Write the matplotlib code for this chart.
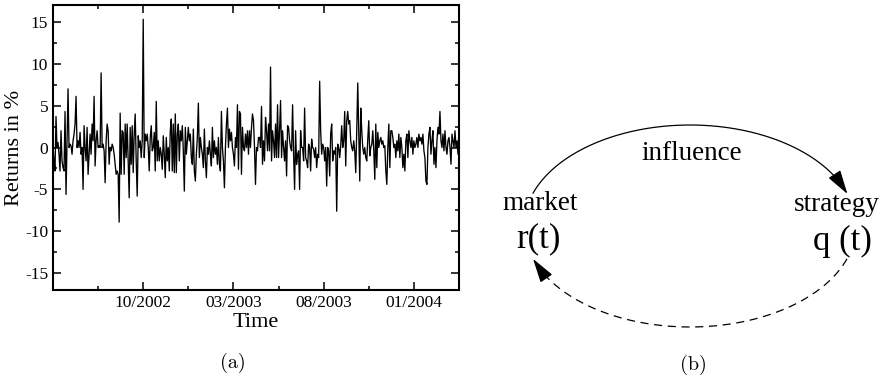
import numpy as np
import matplotlib
matplotlib.use("Agg")
import matplotlib.pyplot as plt
from matplotlib.ticker import MultipleLocator, FixedLocator

# ---------------- data (returns in %) -------------
returns = [
    0, -1.6, -2.8, 3.7, 0, 0.6, -0.8, -2.8, 2.0, -1.6,
    -2.4, -2.8, 4.3, -5.6, 0.8, 7.0, 0, 0.4, 0.2, -0.8,
    0.8, 1.6, 2.8, 6.1, 0, 0.8, 0, 1.8, -0.8, 0,
    -5.0, 2.6, 0, -1.6, 2.4, -3.2, -0.8, 1.6, -0.8, 2.8,
    0.8, 6.1, -2.2, 0.8, 2.0, 0, 0.2, 0, 8.9, 0,
    0.4, -0.4, -4.2, 0.8, 2.8, 2.0, -2.0, 0, -0.4, 0.4,
    0, -0.8, -2.0, -3.2, -2.8, -3.2, -8.9, 4.1, -3.2, 2.0,
    1.8, -3.2, 2.8, -1.2, 2.8, -1.6, -6.0, 2.4, -2.0, 2.6,
    -3.0, 1.6, 4.0, -1.6, -5.8, 1.4, 0, 0.8, -1.2, 0.8,
    15.3, -1.2, 1.6, 0.8, 1.6, 0, -2.8, 1.2, 2.6, -0.4,
    0, 1.8, -2.8, 5.5, -1.6, 0.8, -1.6, 0, -0.8, -2.6,
    1.4, -0.8, -3.6, 1.2, -1.6, 0, -2.8, 2.0, 3.4, -2.8,
    2.8, -3.0, 4.0, -3.0, 1.6, 2.8, -1.6, 2.0, 0.8, 2.6,
    -0.4, -5.2, 2.4, -0.8, 0.8, 2.4, 0.8, 1.6,
    -1.2, -2.0, 2.2, -2.8, -4.0, -0.8, 1.2, 5.3, -1.2, 1.2,
    0, -0.8, -2.4, 2.2, -1.6, -3.6, 0, -0.8, 0.8, -0.8,
    -2.2, 2.4, -1.2, 0.8, -0.8, 0, -2.0, 1.2, -2.0, -2.8,
    4.3, 0, -1.6, -4.8, 0, 2.8, 4.7, 0, 2.2, 0.8,
    1.8, 0, -0.8, -2.2, 1.2, 0, 5.1, -2.6, 4.3, 4.0,
    -3.2, 2.4, 0, -0.4, 1.6, 0, 2.0, -0.8, 2.0, 0,
    2.4, 4.0, 3.2, 0, -4.4, 0, -0.4, 1.2,
    1.2, 0, 4.9, -2.0, 0.8, -1.6, 3.6, 2.0, -0.4, 2.8,
    -0.4, 9.6, -1.6, 2.0, 0.8, -1.2, 2.8, -1.2, 5.1, -1.2,
    2.0, 5.6, -1.2, 2.0, 0, -1.6, 0.8, -3.4, 2.6, 2.4,
    0.8, 0, -0.4, 5.1, -0.8, -5.0, 2.0, -2.0, -0.8, -0.4,
    -5.0, 2.0, 0, 0, -1.6, 4.7, -1.2, -1.6, -2.4, 0.4,
    0, -2.8, 1.0, 0, -0.2, -1.2, 0, -2.4, -0.8, -1.2,
    7.9, 2.0, -0.8, 0.4, 0, -1.6, 0, -4.6,
    0, -0.4, -3.4, 1.6, 2.8, -1.6, -0.4, -0.8, 0, -7.6,
    0.4, 0, -1.2, 0.2, 2.6, 0, 0.8, 4.3, -2.2, 3.2,
    4.3, 2.8, 3.2, 0.8, 0, -0.4, 0.8, -0.4, -3.0, 2.0,
    7.7, 1.6, -4.0, 4.7, 2.0, 0, -0.8, 0, -1.2, -1.6,
    1.0, 3.2, -1.0, 0, 0.4, 2.0, -0.4, -3.8, 2.8, -2.4,
    1.8, 0, 0.8, 1.2, 0.4, 0.8, 0, 0.2, -2.8, -4.4,
    0, 2.8, -2.4, 2.0, 2.0, 1.2, 0, 0.4,
    -1.2, 0.8, -0.4, 1.6, -1.2, 1.2, 0, -2.4, -0.8, -2.8,
    0.8, 1.6, -1.2, 2.0, 0.8, 0, 1.2, -0.8, 0.8, 0,
    0.4, 1.2, 0, 1.6, 0.8, 1.2, 0.4, 1.6, -0.4, -1.2,
    -4.0, -4.4, 0, 1.6, 2.4, -0.8, 0.8, 2.0, -2.0, 0,
    -2.4, 0.8, 2.4, 1.6, 4.3, 0.8, 0, 1.6, -0.4, 2.0,
    0, -0.8, 0.8, 1.2, 0, -2.0, 1.6, 0.8, 0, 2.0,
    0, 0.8, -0.8, 2.4,
]
span_months = 22.5                      # 05/2002 .. mid 03/2004
xtick_months = [5, 10, 15, 20]
xtick_labels = ["10/2002", "03/2003", "08/2003", "01/2004"]
xminor_months = [2.5, 7.5, 12.5, 17.5]
ytick_values = [-15, -10, -5, 0, 5, 10, 15]
ytick_labels = ["-15", "-10", "-5", "0", "5", "10", "15"]

SERIF = ["Liberation Serif", "DejaVu Serif"]
plt.rcParams["font.family"] = SERIF

W, H = 882, 380
fig = plt.figure(figsize=(W / 100, H / 100), dpi=100)

# ---------------- panel (a) ----------------
ax = fig.add_axes([53 / W, 90 / H, 406 / W, 285 / H])
x = np.linspace(0, span_months, len(returns))
ax.plot(x, returns, color="black", lw=0.95)
ax.set_xlim(0, span_months)
ax.set_ylim(-17, 17)
ax.set_xticks(xtick_months)
ax.set_xticklabels(xtick_labels)
ax.xaxis.set_minor_locator(FixedLocator(xminor_months))
ax.set_yticks(ytick_values)
ax.set_yticklabels(ytick_labels)
ax.yaxis.set_minor_locator(MultipleLocator(2.5))
ax.tick_params(which="both", direction="in", top=True, right=True,
               width=1.1, labelsize=12.5)
ax.tick_params(which="major", length=6)
ax.tick_params(which="minor", length=3)
for s in ax.spines.values():
    s.set_linewidth(1.5)
ax.set_xlabel("Time", fontsize=16, labelpad=1.5)
ax.set_ylabel("Returns in %", fontsize=16, labelpad=1)

# ---------------- overlay in pixel coordinates ----------------
ov = fig.add_axes([0, 0, 1, 1])
ov.set_xlim(0, W)
ov.set_ylim(H, 0)
ov.axis("off")
ov.patch.set_visible(False)

ov.text(233, 363, "(a)", fontsize=14.5, family=["cmr10", "DejaVu Serif"],
        ha="center", va="center")
ov.text(693, 365, "(b)", fontsize=14.5, family=["cmr10", "DejaVu Serif"],
        ha="center", va="center")

# diagram (b)
cx, cy, a, b = 690, 226, 166, 101

def ell(th_deg):
    t = np.radians(th_deg)
    return cx + a * np.cos(t), cy + b * np.sin(t)

head = "-|>,head_length=0.75,head_width=0.22"

# solid arc (top) market -> strategy
th = np.linspace(-161, -23, 200)
ex, ey = ell(th)
ov.plot(ex, ey, color="black", lw=0.9)
tip = ell(-18.5)
tail = ell(-25)
ov.annotate("", xy=tip, xytext=tail,
            arrowprops=dict(arrowstyle=head, mutation_scale=20, color="black",
                            lw=0.9, shrinkA=0, shrinkB=0))

# dashed arc (bottom) strategy -> market
th = np.linspace(19, 155, 200)
ex, ey = ell(th)
ov.plot(ex, ey, color="black", lw=0.9, dashes=(6.5, 4.5))
tip = ell(161)
tail = ell(154)
ov.annotate("", xy=tip, xytext=tail,
            arrowprops=dict(arrowstyle=head, mutation_scale=20, color="black",
                            lw=0.9, shrinkA=0, shrinkB=0))

ov.text(692, 160, "influence", fontsize=19.5, ha="center", va="baseline")
ov.text(540, 210, "market", fontsize=19.5, ha="center", va="baseline")
ov.text(837, 211, "strategy", fontsize=19.5, ha="center", va="baseline")
ov.text(538.5, 239, "r(t)", fontsize=25, ha="center", va="center")
ov.text(842, 241, "q (t)", fontsize=25, ha="center", va="center")

fig.savefig("out.png", dpi=100)
